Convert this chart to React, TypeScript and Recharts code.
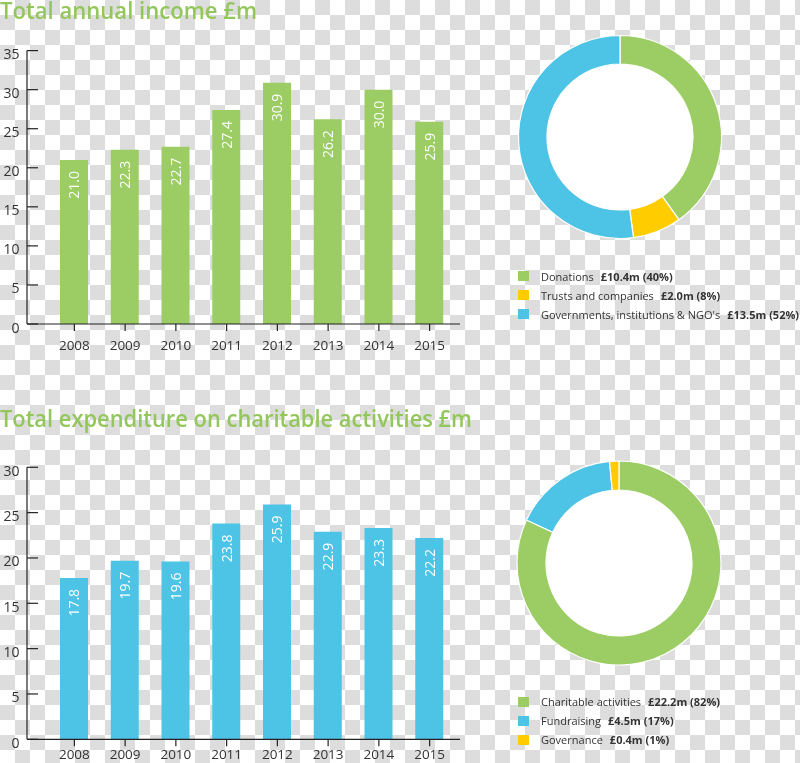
import React from "react";
import { BarChart, Bar, XAxis, YAxis, LabelList, PieChart, Pie, Cell } from "recharts";

// bar data
const YEARS = ["2008", "2009", "2010", "2011", "2012", "2013", "2014", "2015"];
const INCOME = [21.0, 22.3, 22.7, 27.4, 30.9, 26.2, 30.0, 25.9];
const EXPENDITURE = [17.8, 19.7, 19.6, 23.8, 25.9, 22.9, 23.3, 22.2];
const INCOME_TICKS = [0, 5, 10, 15, 20, 25, 30, 35];
const EXPEND_TICKS = [0, 5, 10, 15, 20, 25, 30];

// donut data
const INCOME_NAMES = ["Donations", "Trusts and companies", "Governments, institutions & NGO's"];
const INCOME_VALUES = [10.4, 2.0, 13.5];
const INCOME_PCT = [40, 8, 52];
const EXPEND_NAMES = ["Charitable activities", "Fundraising", "Governance"];
const EXPEND_VALUES = [22.2, 4.5, 0.4];
const EXPEND_PCT = [82, 17, 1];

const GREEN = "#9ccd64";
const BLUE = "#4dc4e6";
const YELLOW = "#ffcc00";
const TITLE_GREEN = "#93c75c";
const INK = "#222";
const FONT = "'Open Sans', Arial, sans-serif";

const INCOME_COLORS = [GREEN, YELLOW, BLUE];
const EXPEND_COLORS = [GREEN, BLUE, YELLOW];

const incomeRows = YEARS.map((year, i) => ({ year, value: INCOME[i] }));
const expendRows = YEARS.map((year, i) => ({ year, value: EXPENDITURE[i] }));

function YTick(props: any) {
  const { x, y, payload } = props;
  return (
    <g>
      <line x1={x} x2={x + 11} y1={y} y2={y} stroke={INK} strokeWidth={1.2} />
      <text x={x - 7.5} y={y + 3} textAnchor="end" dominantBaseline="central" fontSize={14} fill="#333" fontFamily={FONT}>
        {payload.value}
      </text>
    </g>
  );
}

function BarValue(props: any) {
  const { x, y, width, value } = props;
  const cx = x + width / 2;
  const ty = y + 11;
  return (
    <text x={cx} y={ty} transform={`rotate(-90, ${cx}, ${ty})`} textAnchor="end" dominantBaseline="central"
      fill="#fff" fontSize={14} fontFamily={FONT}>
      {Number(value).toFixed(1)}
    </text>
  );
}

interface BarsProps {
  data: { year: string; value: number }[];
  ticks: number[];
  color: string;
  top: number;
  height: number;
  marginTop: number;
  axisHeight: number;
  tickMargin: number;
}

function Bars({ data, ticks, color, top, height, marginTop, axisHeight, tickMargin }: BarsProps) {
  return (
    <div style={{ position: "absolute", left: 0, top }}>
      <BarChart width={470} height={height} data={data} margin={{ top: marginTop, right: 10, left: 0, bottom: 0 }}>
        <XAxis dataKey="year" height={axisHeight} padding={{ left: 22, right: 5 }}
          axisLine={{ stroke: INK, strokeWidth: 1.2 }} tickLine={{ stroke: INK, strokeWidth: 1.2 }}
          tickSize={7} tickMargin={tickMargin} interval={0}
          tick={{ fill: "#333", fontSize: 13.5, fontFamily: FONT }} />
        <YAxis width={27} domain={[0, ticks[ticks.length - 1]]} ticks={ticks} interval={0}
          axisLine={{ stroke: INK, strokeWidth: 1.2 }} tickLine={false} tickSize={0} tickMargin={0}
          tick={<YTick />} />
        <Bar dataKey="value" fill={color} barSize={28} isAnimationActive={false}>
          <LabelList dataKey="value" content={<BarValue />} />
        </Bar>
      </BarChart>
    </div>
  );
}

interface DonutProps {
  values: number[];
  names: string[];
  colors: string[];
  left: number;
  top: number;
  outer: number;
}

function Donut({ values, names, colors, left, top, outer }: DonutProps) {
  const rows = values.map((v, i) => ({ name: names[i], value: v }));
  return (
    <div style={{ position: "absolute", left, top }}>
      <PieChart width={240} height={240} margin={{ top: 0, right: 0, bottom: 0, left: 0 }}>
        <Pie data={[{ value: 1 }]} dataKey="value" cx={120} cy={120} innerRadius={0} outerRadius={74}
          fill="#fff" stroke="none" isAnimationActive={false} />
        <Pie data={rows} dataKey="value" cx={120} cy={120} innerRadius={73} outerRadius={outer}
          startAngle={90} endAngle={-270} stroke="#fff" strokeWidth={1.2} isAnimationActive={false}>
          {rows.map((r, i) => <Cell key={r.name} fill={colors[i]} />)}
        </Pie>
      </PieChart>
    </div>
  );
}

function Legend({ names, values, pct, colors, top }: { names: string[]; values: number[]; pct: number[]; colors: string[]; top: number }) {
  return (
    <div style={{ position: "absolute", left: 518, top, fontFamily: FONT, fontSize: 11, color: "#333" }}>
      {names.map((n, i) => (
        <div key={n} style={{ display: "flex", alignItems: "center", height: 19.2, whiteSpace: "nowrap" }}>
          <span style={{ display: "inline-block", width: 11, height: 10, background: colors[i], marginRight: 12 }} />
          <span>{n}</span>
          <span style={{ fontWeight: 700, marginLeft: 7 }}>£{values[i].toFixed(1)}m ({pct[i]}%)</span>
        </div>
      ))}
    </div>
  );
}

export default function App() {
  return (
    <div style={{
      position: "fixed", left: 0, top: 0, width: 800, height: 763, overflow: "hidden",
      background: "repeating-conic-gradient(#dddddd 0 25%, #ffffff 0 50%) 0 0 / 30px 30px",
    }}>
      <svg width={800} height={440} style={{ position: "absolute", left: 0, top: 0 }}>
        <text x={0} y={18.5} fontSize={23} fill={TITLE_GREEN} fontFamily={FONT} fontWeight={600}
          textLength={257} lengthAdjust="spacingAndGlyphs">Total annual income £m</text>
        <text x={0} y={427} fontSize={23} fill={TITLE_GREEN} fontFamily={FONT} fontWeight={600}
          textLength={472} lengthAdjust="spacingAndGlyphs">Total expenditure on charitable activities £m</text>
      </svg>

      <Bars data={incomeRows} ticks={INCOME_TICKS} color={GREEN} top={0} height={360}
        marginTop={50.6} axisHeight={36} tickMargin={9} />
      <Bars data={expendRows} ticks={EXPEND_TICKS} color={BLUE} top={417} height={346}
        marginTop={50.3} axisHeight={23.7} tickMargin={3} />

      <Donut values={INCOME_VALUES} names={INCOME_NAMES} colors={INCOME_COLORS} left={499.5} top={16.5} outer={101.5} />
      <Donut values={EXPEND_VALUES} names={EXPEND_NAMES} colors={EXPEND_COLORS} left={498.7} top={443.3} outer={102} />

      <Legend names={INCOME_NAMES} values={INCOME_VALUES} pct={INCOME_PCT} colors={INCOME_COLORS} top={266.5} />
      <Legend names={EXPEND_NAMES} values={EXPEND_VALUES} pct={EXPEND_PCT} colors={EXPEND_COLORS} top={692} />
    </div>
  );
}
